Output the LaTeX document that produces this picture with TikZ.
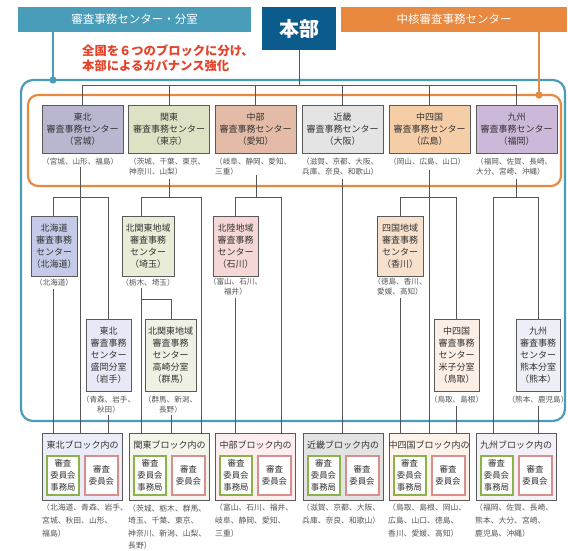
\documentclass[tikz,border=0pt]{standalone}
\usepackage{fontspec}
\setmainfont{Noto Sans CJK JP}
\definecolor{teal1}{HTML}{4A9DB9}
\definecolor{orng}{HTML}{E8893F}
\definecolor{navy}{HTML}{0B5B8C}
\definecolor{redt}{HTML}{E5432A}
\definecolor{lineg}{HTML}{555555}
\definecolor{boxg}{HTML}{5A5A5A}
\definecolor{txt}{HTML}{333333}
\definecolor{preft}{HTML}{555555}
\definecolor{fA}{HTML}{B9B6CF}
\definecolor{fB}{HTML}{DEE2C4}
\definecolor{fC}{HTML}{E4BBA7}
\definecolor{fD}{HTML}{E4E4E4}
\definecolor{fE}{HTML}{F5CEA7}
\definecolor{fF}{HTML}{CCB8D8}
\definecolor{mA}{HTML}{C4CAE7}
\definecolor{mB}{HTML}{E9ECD6}
\definecolor{mC}{HTML}{F5D8D5}
\definecolor{mD}{HTML}{F7E1CD}
\definecolor{mE}{HTML}{E7EAF6}
\definecolor{mF}{HTML}{EFF1E5}
\definecolor{mG}{HTML}{FCEFE5}
\definecolor{mH}{HTML}{EEEEF7}
\definecolor{bA}{HTML}{EAECF7}
\definecolor{bB}{HTML}{F4F6EC}
\definecolor{bC}{HTML}{FCEEEE}
\definecolor{bD}{HTML}{E3E3E3}
\definecolor{bE}{HTML}{FDF3EA}
\definecolor{bF}{HTML}{F3F0F7}
\definecolor{ingr}{HTML}{8CB24A}
\definecolor{inrd}{HTML}{D98E8E}
\tikzset{
  conn/.style={draw=lineg, line width=0.7pt},
  hdr/.style={inner sep=0pt, text=white, font=\fontsize{11.5}{13}\selectfont},
  topbox/.style={draw=boxg, line width=0.9pt, minimum width=81pt, minimum height=48pt, inner sep=0pt, align=center, text=txt, font=\fontsize{9}{12}\selectfont},
  midbox/.style={draw=boxg, line width=0.9pt, minimum height=60pt, inner sep=0pt, align=center, text=txt, font=\fontsize{9}{12}\selectfont},
  lowbox/.style={draw=boxg, line width=0.9pt, minimum height=72pt, inner sep=0pt, align=center, text=txt, font=\fontsize{9}{12}\selectfont},
  pref/.style={inner sep=0pt, text=preft, font=\fontsize{7.6}{10}\selectfont},
  blk/.style={draw=boxg, line width=0.9pt, minimum width=80pt, minimum height=67pt, inner sep=0pt},
  blktitle/.style={inner sep=0pt, text=txt, font=\fontsize{9}{11}\selectfont},
  ingreen/.style={draw=ingr, fill=white, line width=2pt, minimum width=32pt, minimum height=39pt, inner sep=0pt, align=center, text=txt, font=\fontsize{8.4}{12}\selectfont},
  inred/.style={draw=inrd, fill=white, line width=2pt, minimum width=33pt, minimum height=39pt, inner sep=0pt, align=center, text=txt, font=\fontsize{8.4}{12}\selectfont},
  btext/.style={inner sep=0pt, anchor=west, align=left, text=preft, font=\fontsize{7.8}{12.6}\selectfont},
}
\begin{document}
\begin{tikzpicture}[x=1pt,y=-1pt]
\useasboundingbox[fill=white] (0,0) rectangle (568,550);
% headers
\node[hdr, fill=teal1, minimum width=233pt, minimum height=25pt] (hl) at (134.5,19.5) {審査事務センター・分室};
\node[hdr, fill=navy, minimum width=74pt, minimum height=43pt, font=\bfseries\fontsize{20}{22}\selectfont] (hq) at (299,28.5) {本部};
\node[hdr, fill=orng, minimum width=226pt, minimum height=25pt] (hr) at (454,19.5) {中核審査事務センター};
\node[inner sep=0pt, anchor=west, align=left, text=redt, font=\bfseries\fontsize{12.3}{15}\selectfont] (slogan) at (82,58.5) {全国を６つのブロックに分け、\\本部によるガバナンス強化};
% frames
\draw[teal1, line width=2.2pt, rounded corners=12pt] (21,80) rectangle (565,421);
\draw[orng, line width=2.2pt, rounded corners=10pt] (28,95) rectangle (561,186);
\draw[teal1, line width=1.2pt] (hl.south -| 53,0) coordinate (tl) -- (53,80) coordinate (tdot);
\fill[teal1] (tdot) circle (3.6pt);
\draw[orng, line width=1.2pt] (hr.south -| 539,0) -- (539,95) coordinate (odot);
\fill[orng] (odot) circle (3.6pt);
% top boxes
\node[topbox, fill=fA] (t1) at (82.5,129) {東北\\審査事務センター\\（宮城）};
\node[topbox, fill=fB] (t2) at (169,129) {関東\\審査事務センター\\（東京）};
\node[topbox, fill=fC] (t3) at (255.5,129) {中部\\審査事務センター\\（愛知）};
\node[topbox, fill=fD] (t4) at (342.5,129) {近畿\\審査事務センター\\（大阪）};
\node[topbox, fill=fE] (t5) at (429.5,129) {中四国\\審査事務センター\\（広島）};
\node[topbox, fill=fF] (t6) at (516.5,129) {九州\\審査事務センター\\（福岡）};
\node[pref, anchor=west, align=left] (p1) at (42,162) {（宮城、山形、福島）};
\node[pref, anchor=west, align=left] (p2) at (129,167) {（茨城、千葉、東京、\\神奈川、山梨）};
\node[pref, anchor=west, align=left] (p3) at (215,167) {（岐阜、静岡、愛知、\\三重）};
\node[pref, anchor=west, align=left] (p4) at (302,167) {（滋賀、京都、大阪、\\兵庫、奈良、和歌山）};
\node[pref, anchor=west, align=left] (p5) at (389,162) {（岡山、広島、山口）};
\node[pref, anchor=west, align=left] (p6) at (476,167) {（福岡、佐賀、長崎、\\大分、宮崎、沖縄）};
% head line
\draw[conn] (hq.south) -- (299,85) coordinate (hb);
\draw[conn] (82.5,85) coordinate (h1) -- (516.5,85) coordinate (h6);
\draw[conn] (h1) -- (t1.north);
\draw[conn] (169,85) -- (t2.north);
\draw[conn] (255.5,85) -- (t3.north);
\draw[conn] (342.5,85) -- (t4.north);
\draw[conn] (429.5,85) -- (t5.north);
\draw[conn] (h6) -- (t6.north);
% middle boxes
\node[midbox, fill=mA, minimum width=46pt] (hok) at (54,246) {北海道\\審査事務\\センター\\（北海道）};
\node[midbox, fill=mB, minimum width=52pt] (kk) at (148,246) {北関東地域\\審査事務\\センター\\（埼玉）};
\node[midbox, fill=mC, minimum width=45pt] (hrk) at (235.5,246) {北陸地域\\審査事務\\センター\\（石川）};
\node[midbox, fill=mD, minimum width=46pt] (sk) at (400,246) {四国地域\\審査事務\\センター\\（香川）};
\node[pref, align=center] (q1) at (54,283) {（北海道）};
\node[pref, align=center] (q2) at (148,283) {（栃木、埼玉）};
\node[pref, align=center] (q3) at (235.5,287) {（富山、石川、\\福井）};
\node[pref, align=center] (q4) at (400,287) {（徳島、香川、\\愛媛、高知）};
% lower boxes
\node[lowbox, fill=mE, minimum width=45pt] (mo) at (108.5,355) {東北\\審査事務\\センター\\盛岡分室\\（岩手）};
\node[lowbox, fill=mF, minimum width=51pt] (ta) at (170.5,355) {北関東地域\\審査事務\\センター\\高崎分室\\（群馬）};
\node[lowbox, fill=mG, minimum width=45pt] (yo) at (456.5,355) {中四国\\審査事務\\センター\\米子分室\\（鳥取）};
\node[lowbox, fill=mH, minimum width=44pt] (ku) at (538,355) {九州\\審査事務\\センター\\熊本分室\\（熊本）};
\node[pref, align=center] (r1) at (108.5,404.5) {（青森、岩手、\\秋田）};
\node[pref, align=center] (r2) at (170.5,404.5) {（群馬、新潟、\\長野）};
\node[pref, align=center] (r3) at (456.5,400) {（鳥取、島根）};
\node[pref, align=center] (r4) at (538,400) {（熊本、鹿児島）};
% bottom blocks
\node[blk, fill=bA] (b1) at (82.5,466.5) {};
\node[blk, fill=bB] (b2) at (169.5,466.5) {};
\node[blk, fill=bC] (b3) at (255.5,466.5) {};
\node[blk, fill=bD] (b4) at (343,466.5) {};
\node[blk, fill=bE] (b5) at (429,466.5) {};
\node[blk, fill=bF] (b6) at (516,466.5) {};
\node[blktitle] (bt1) at (82.5,445) {東北ブロック内の};
\node[blktitle] (bt2) at (169.5,445) {関東ブロック内の};
\node[blktitle] (bt3) at (255.5,445) {中部ブロック内の};
\node[blktitle] (bt4) at (343,445) {近畿ブロック内の};
\node[blktitle] (bt5) at (429,445) {中四国ブロック内の};
\node[blktitle] (bt6) at (516,445) {九州ブロック内の};
\node[ingreen] (g1) at (63,475.5) {審査\\委員会\\事務局};
\node[inred] (e1) at (101.5,475.5) {審査\\委員会};
\node[ingreen] (g2) at (150,475.5) {審査\\委員会\\事務局};
\node[inred] (e2) at (188.5,475.5) {審査\\委員会};
\node[ingreen] (g3) at (236,475.5) {審査\\委員会\\事務局};
\node[inred] (e3) at (274.5,475.5) {審査\\委員会};
\node[ingreen] (g4) at (323.5,475.5) {審査\\委員会\\事務局};
\node[inred] (e4) at (362,475.5) {審査\\委員会};
\node[ingreen] (g5) at (409.5,475.5) {審査\\委員会\\事務局};
\node[inred] (e5) at (448,475.5) {審査\\委員会};
\node[ingreen] (g6) at (496.5,475.5) {審査\\委員会\\事務局};
\node[inred] (e6) at (535,475.5) {審査\\委員会};
\node[btext] (s1) at (42,520.5) {（北海道、青森、岩手、\\宮城、秋田、山形、\\福島）};
\node[btext] (s2) at (128,527) {（茨城、栃木、群馬、\\埼玉、千葉、東京、\\神奈川、新潟、山梨、\\長野）};
\node[btext] (s3) at (215,520.5) {（富山、石川、福井、\\岐阜、静岡、愛知、\\三重）};
\node[btext] (s4) at (302,514.2) {（滋賀、京都、大阪、\\兵庫、奈良、和歌山）};
\node[btext] (s5) at (388,520.5) {（鳥取、島根、岡山、\\広島、山口、徳島、\\香川、愛媛、高知）};
\node[btext] (s6) at (475,520.5) {（福岡、佐賀、長崎、\\熊本、大分、宮崎、\\鹿児島、沖縄）};
% connectors: Tohoku
\draw[conn] (80,167) -- (80,167 |- b1.north);
\draw[conn] (53,197) coordinate (j1a) -- (108.5,197) coordinate (j1b);
\draw[conn] (j1a) -- (j1a |- hok.north);
\draw[conn] (j1b) -- (j1b |- mo.north);
\draw[conn] (53,289) -- (53,289 |- b1.north);
\draw[conn] (108.5,415) -- (108.5,415 |- b1.north);
% Kanto
\draw[conn] (169,179) -- (169,197);
\draw[conn] (141,197) coordinate (j2a) -- (201,197) coordinate (j2b);
\draw[conn] (j2a) -- (j2a |- kk.north);
\draw[conn] (j2b) -- (j2b |- b2.north);
\draw[conn] (141,288) -- (141,288 |- b2.north);
\draw[conn] (141,299) -- (171.5,299) coordinate (j2c) -- (j2c |- ta.north);
\draw[conn] (171.5,415) -- (171.5,415 |- b2.north);
% Chubu
\draw[conn] (256,175) -- (256,197);
\draw[conn] (235.5,197) coordinate (j3a) -- (281,197) coordinate (j3b);
\draw[conn] (j3a) -- (j3a |- hrk.north);
\draw[conn] (j3b) -- (j3b |- b3.north);
\draw[conn] (235.5,298) -- (235.5,298 |- b3.north);
% Kinki
\draw[conn] (342,179) -- (342,179 |- b4.north);
% Chushikoku
\draw[conn] (429,170) -- (429,170 |- b5.north);
\draw[conn] (400,197) coordinate (j5a) -- (456.5,197) coordinate (j5b);
\draw[conn] (j5a) -- (j5a |- sk.north);
\draw[conn] (j5b) -- (j5b |- yo.north);
\draw[conn] (400,298) -- (400,298 |- b5.north);
\draw[conn] (456.5,406) -- (456.5,406 |- b5.north);
% Kyushu
\draw[conn] (516.5,179) -- (516.5,197);
\draw[conn] (493,197) coordinate (j6a) -- (538,197) coordinate (j6b);
\draw[conn] (j6a) -- (j6a |- b6.north);
\draw[conn] (j6b) -- (j6b |- ku.north);
\draw[conn] (538,406) -- (538,406 |- b6.north);
\end{tikzpicture}
\end{document}
